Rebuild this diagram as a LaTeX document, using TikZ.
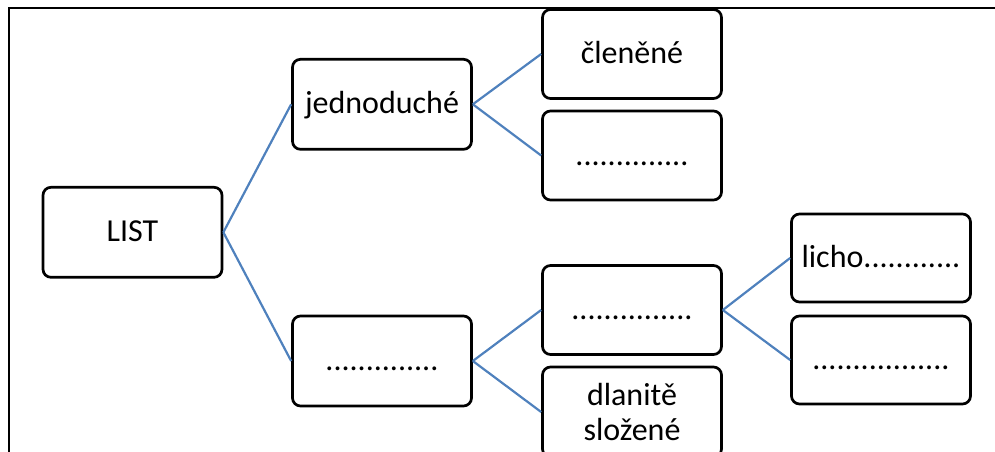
\documentclass[tikz,border=0pt]{standalone}
\usepackage{fontspec}
\setmainfont{Carlito}
\definecolor{conn}{HTML}{4F81BD}
\tikzset{
  box/.style={draw=black, line width=2.7pt, rounded corners=8pt, fill=white,
    minimum width=179pt, minimum height=90pt, inner sep=0pt,
    text height=22pt, text depth=3pt, font=\fontsize{32}{35}\selectfont},
  twobox/.style={draw=black, line width=2.7pt, rounded corners=8pt, fill=white,
    minimum width=179pt, minimum height=90pt, inner sep=0pt, align=center,
    font=\fontsize{32}{35}\selectfont},
  conn/.style={draw=conn, line width=2.2pt},
  frame/.style={draw=black, line width=2pt}
}
\begin{document}
\begin{tikzpicture}[x=1pt, y=-1pt]
\useasboundingbox (0,0) rectangle (995,452);
\clip (0,0) rectangle (995,452);
% frame
\coordinate (fa) at (8.5,452);
\coordinate (fb) at (8.5,8.5);
\coordinate (fc) at (995,8.5);
\draw[frame] (fa) -- (fb) -- (fc);
% nodes
\node[box] (list) at (132.5,232.3) {LIST};
\node[box] (jed) at (382,104.3) {jednoduché};
\node[box] (low) at (382,361) {..............};
\node[box, minimum height=89pt] (clen) at (632,54) {členěné};
\node[box, minimum height=89pt] (d2) at (632,155.5) {..............};
\node[box, minimum height=89pt] (mid) at (632,310) {...............};
\node[twobox] (dlan) at (632,412) {dlanitě\\složené};
\node[box, minimum height=88pt] (licho) at (881,258) {licho............};
\node[box, minimum height=88pt] (lr) at (881,360) {.................};
% connectors
\draw[conn] (list.east) -- (jed.west);
\draw[conn] (list.east) -- (low.west);
\draw[conn] (jed.east) -- (clen.west);
\draw[conn] (jed.east) -- (d2.west);
\draw[conn] (low.east) -- (mid.west);
\draw[conn] (low.east) -- (dlan.west);
\draw[conn] (mid.east) -- (licho.west);
\draw[conn] (mid.east) -- (lr.west);
\end{tikzpicture}
\end{document}
